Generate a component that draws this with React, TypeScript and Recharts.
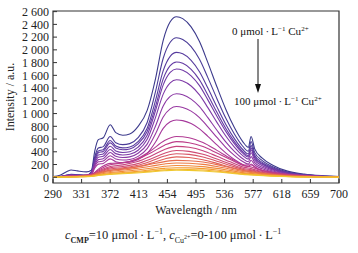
import React from 'react';
import { LineChart, Line, XAxis, YAxis, ReferenceArea } from 'recharts';

// Wavelength grids (nm)
const wlFull = [290, 300, 310, 316, 325, 338, 345, 350, 355, 362, 372, 380, 390, 400, 412, 425, 437, 448, 458, 467, 476, 488, 500, 512, 525, 538, 550, 562, 570, 574, 579, 590, 605, 625, 650, 675, 700];
const wlLow = [290, 310, 330, 345, 355, 372, 390, 410, 430, 450, 467, 485, 505, 525, 545, 565, 574, 585, 605, 630, 660, 700];

// Cu2+ concentrations (µmol/L)
const concentrations = [0, 5, 10, 15, 20, 25, 30, 35, 40, 45, 50, 55, 60, 65, 70, 75, 80, 85, 90, 95, 100];

// Intensities (a.u.) on wlFull
const s0 = [10, 30, 90, 115, 100, 85, 110, 420, 590, 620, 825, 700, 660, 680, 800, 1050, 1550, 2150, 2440, 2520, 2490, 2360, 2130, 1800, 1420, 1060, 780, 560, 470, 640, 450, 300, 190, 100, 50, 25, 12];
const s1 = [4, 12, 35, 45, 39, 33, 85, 326, 458, 481, 640, 543, 512, 528, 621, 860, 1347, 1868, 2120, 2190, 2164, 2051, 1851, 1564, 1234, 921, 678, 487, 408, 560, 391, 261, 165, 87, 43, 22, 10];
const s2 = [4, 11, 32, 40, 35, 30, 77, 294, 413, 434, 578, 490, 462, 476, 560, 770, 1206, 1673, 1898, 1960, 1937, 1836, 1657, 1400, 1105, 825, 607, 436, 366, 496, 350, 233, 148, 78, 39, 19, 9];
const s3 = [3, 10, 30, 38, 33, 28, 72, 275, 386, 406, 540, 459, 432, 445, 524, 720, 1113, 1544, 1752, 1810, 1788, 1694, 1529, 1292, 1020, 761, 560, 402, 337, 457, 323, 215, 136, 72, 36, 18, 9];
const s4 = [3, 9, 27, 35, 30, 26, 65, 248, 348, 366, 487, 413, 389, 401, 472, 660, 1046, 1451, 1647, 1700, 1681, 1593, 1438, 1215, 959, 716, 527, 378, 317, 427, 304, 203, 128, 68, 34, 17, 8];
const s5 = [3, 8, 24, 31, 27, 23, 58, 223, 313, 329, 437, 371, 350, 360, 424, 595, 941, 1305, 1481, 1530, 1511, 1433, 1293, 1093, 862, 643, 473, 340, 285, 385, 273, 182, 115, 61, 30, 15, 7];
const s6 = [3, 8, 22, 29, 25, 21, 52, 197, 277, 291, 388, 329, 310, 320, 376, 520, 806, 1118, 1269, 1310, 1295, 1227, 1108, 936, 738, 551, 406, 291, 244, 324, 234, 156, 99, 52, 26, 13, 6];
const s7 = [2, 7, 20, 25, 22, 19, 45, 172, 242, 254, 338, 287, 271, 279, 328, 450, 682, 946, 1074, 1110, 1096, 1038, 937, 792, 625, 466, 343, 246, 207, 267, 198, 132, 84, 44, 22, 11, 5];
const s8 = [2, 6, 18, 23, 20, 17, 38, 147, 206, 217, 289, 245, 231, 238, 280, 375, 553, 768, 871, 900, 889, 843, 760, 643, 507, 378, 278, 200, 168, 208, 160, 107, 68, 36, 18, 9, 4];

// Intensities (a.u.) on wlLow
const s9 = [6, 19, 26, 38, 128, 218, 230, 288, 416, 576, 640, 621, 544, 422, 294, 192, 193, 128, 77, 38, 19, 6];
const s10 = [6, 17, 28, 45, 112, 196, 224, 280, 381, 504, 560, 543, 482, 381, 274, 179, 162, 118, 73, 39, 17, 6];
const s11 = [5, 15, 24, 39, 97, 170, 194, 243, 330, 437, 485, 470, 417, 330, 238, 155, 136, 102, 63, 34, 15, 5];
const s12 = [4, 13, 21, 34, 84, 147, 168, 210, 286, 378, 420, 407, 361, 286, 206, 134, 118, 88, 55, 29, 13, 4];
const s13 = [4, 11, 19, 30, 74, 130, 148, 185, 252, 333, 370, 359, 318, 252, 181, 118, 104, 78, 48, 26, 11, 4];
const s14 = [3, 10, 16, 26, 64, 112, 128, 160, 218, 288, 320, 310, 275, 218, 157, 102, 90, 67, 42, 22, 10, 3];
const s15 = [3, 8, 16, 32, 66, 106, 133, 164, 204, 246, 265, 260, 239, 199, 148, 101, 87, 69, 42, 21, 11, 3];
const s16 = [2, 7, 14, 27, 56, 90, 113, 140, 173, 209, 225, 221, 203, 169, 126, 86, 74, 59, 36, 18, 9, 2];
const s17 = [2, 6, 11, 22, 46, 74, 93, 115, 142, 172, 185, 181, 167, 139, 104, 70, 61, 48, 30, 15, 7, 2];
const s18 = [2, 5, 9, 18, 38, 60, 75, 93, 116, 140, 150, 147, 135, 113, 84, 57, 50, 39, 24, 12, 6, 2];
const s19 = [1, 4, 8, 15, 31, 50, 63, 78, 96, 116, 125, 123, 113, 94, 70, 48, 41, 33, 20, 10, 5, 1];
const s20 = [1, 3, 7, 13, 28, 44, 55, 68, 85, 102, 110, 108, 99, 83, 62, 42, 36, 29, 18, 9, 4, 1];

const seriesFull = [s0, s1, s2, s3, s4, s5, s6, s7, s8];
const seriesLow = [s9, s10, s11, s12, s13, s14, s15, s16, s17, s18, s19, s20];

const colors = [
  '#3c3a8c', '#4a3b97', '#573b9e', '#643ba3', '#713aa6', '#7e3aa7', '#8b39a5', '#9838a1',
  '#a5389b', '#b13a93', '#bc3d89', '#c6437e', '#cf4b73', '#d75567', '#df605b', '#e66d4f',
  '#ec7b44', '#f08b3a', '#f39c32', '#f3b02d', '#f0c82e',
];

const xTicks = [290, 331, 372, 413, 454, 495, 536, 577, 618, 659, 700];
const yTicks = [0, 200, 400, 600, 800, 1000, 1200, 1400, 1600, 1800, 2000, 2200, 2400, 2600];

const fmt = (v: number) =>
  v >= 1000 ? `${Math.floor(v / 1000)} ${String(v % 1000).padStart(3, '0')}` : String(v);

const FONT = "'Liberation Serif', 'Times New Roman', serif";
const DOT = '\u2009·\u2009';

const lines = [
  ...seriesFull.map((s) => wlFull.map((w, i) => ({ w, v: s[i] }))),
  ...seriesLow.map((s) => wlLow.map((w, i) => ({ w, v: s[i] }))),
];

export default function App() {
  const tickStyle = { fontFamily: FONT, fontSize: 12, fill: '#222' };
  return (
    <div style={{ position: 'absolute', left: 0, top: 0, width: 358, height: 253, background: '#fff' }}>
      <LineChart width={358} height={220} margin={{ top: 11, right: 19, left: 0, bottom: 0 }}>
        <XAxis
          type="number"
          dataKey="w"
          domain={[290, 700]}
          ticks={xTicks}
          interval={0}
          allowDataOverflow
          axisLine={false}
          tickSize={-4}
          tickMargin={10}
          tickLine={{ stroke: '#333' }}
          tick={tickStyle}
          height={37}
          label={{ value: 'Wavelength / nm', position: 'insideBottom', offset: 6, style: { fontFamily: FONT, fontSize: 12, fill: '#222' } }}
        />
        <YAxis
          type="number"
          domain={[-90, 2610]}
          ticks={yTicks}
          interval={0}
          allowDataOverflow
          axisLine={false}
          tickSize={-4}
          tickMargin={8}
          tickLine={{ stroke: '#333' }}
          tick={tickStyle}
          tickFormatter={fmt}
          width={53}
          label={{ value: 'Intensity / a.u.', angle: -90, position: 'insideLeft', offset: 10, style: { fontFamily: FONT, fontSize: 12, fill: '#222', textAnchor: 'middle' } }}
        />
        {lines.map((d, k) => (
          <Line
            key={concentrations[k]}
            data={d}
            dataKey="v"
            type="monotone"
            stroke={colors[k]}
            strokeWidth={1.1}
            dot={false}
            isAnimationActive={false}
          />
        ))}
        <ReferenceArea x1={290} x2={700} y1={-90} y2={2610} fill="none" fillOpacity={0} stroke="#333" strokeWidth={1.2} ifOverflow="visible" />
      </LineChart>
      <svg width={358} height={253} style={{ position: 'absolute', left: 0, top: 0, pointerEvents: 'none' }}>
        <text x={232} y={35} fontFamily={FONT} fontSize={11} fill="#111">
          0 μmol{DOT}L<tspan fontSize={7} dy={-4}>−1</tspan><tspan dy={4}> Cu</tspan><tspan fontSize={7} dy={-4}>2+</tspan>
        </text>
        <line x1={258} y1={39} x2={258} y2={86} stroke="#111" strokeWidth={1} />
        <polygon points="258,93 255,84 261,84" fill="#111" />
        <text x={234} y={105} fontFamily={FONT} fontSize={11} fill="#111">
          100 μmol{DOT}L<tspan fontSize={7} dy={-4}>−1</tspan><tspan dy={4}> Cu</tspan><tspan fontSize={7} dy={-4}>2+</tspan>
        </text>
      </svg>
      <div style={{ position: 'absolute', left: 65, top: 225, fontFamily: FONT, fontSize: 12.5, color: '#222', whiteSpace: 'nowrap', lineHeight: '14px' }}>
        <i>c</i><sub style={{ fontSize: 8, fontWeight: 'bold' }}>CMP</sub>=10 μmol{DOT}L<sup style={{ fontSize: 8 }}>−1</sup>, <i>c</i>
        <sub style={{ fontSize: 8 }}>Cu<sup style={{ fontSize: 6 }}>2+</sup></sub>=0-100 μmol{DOT}L<sup style={{ fontSize: 8 }}>−1</sup>
      </div>
    </div>
  );
}
